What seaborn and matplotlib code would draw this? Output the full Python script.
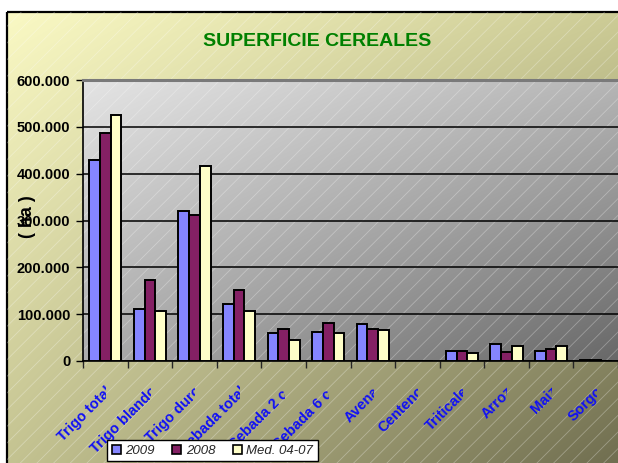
import numpy as np
import pandas as pd
import matplotlib
matplotlib.use("Agg")
import matplotlib.pyplot as plt
import matplotlib.transforms as mtransforms
from matplotlib.patches import Rectangle, Patch
from matplotlib.ticker import FixedLocator, FuncFormatter
import seaborn as sns

# data (ha)
cultivos = ["Trigo total", "Trigo blando", "Trigo duro", "Cebada total", "Cebada 2 c.",
            "Cebada 6 c.", "Avena", "Centeno", "Triticale", "Arroz", "Maiz", "Sorgo"]
series = ["2009", "2008", "Med. 04-07"]
v2009 = [429000, 110000, 320000, 122000, 60000, 62000, 79000, 1000, 21000, 36000, 22000, 2500]
v2008 = [486000, 173000, 312000, 151000, 68000, 82000, 68000, 1000, 22000, 19000, 26000, 1500]
vmed = [525000, 107000, 417000, 107000, 45000, 60000, 66000, 1000, 17000, 32000, 32000, 1000]
colores = ["#8585ff", "#842064", "#ffffc8"]

df = pd.DataFrame({
    "cultivo": cultivos * 3,
    "serie": [s for s in series for _ in cultivos],
    "ha": v2009 + v2008 + vmed,
})

sns.set_style("white")
plt.rcParams["font.family"] = ["Liberation Sans", "DejaVu Sans"]
plt.rcParams["hatch.linewidth"] = 0.6

W, H = 618, 463
fig = plt.figure(figsize=(W / 100, H / 100), dpi=100)
fig.patch.set_facecolor("white")


def grad(tl, tr, bl, br, n=200):
    # bilinear colour ramp between the four corners
    tl, tr, bl, br = [np.array(c, float) / 255 for c in (tl, tr, bl, br)]
    u = np.linspace(0, 1, n)[None, :, None]
    v = np.linspace(0, 1, n)[:, None, None]
    top = tl * (1 - u) + tr * u
    bot = bl * (1 - u) + br * u
    return top * (1 - v) + bot * v


# outer chart area background
bg = fig.add_axes([0, 0, 1, 1], zorder=-3)
bg.set_xlim(0, W)
bg.set_ylim(H, 0)
bg.axis("off")
bg.imshow(grad((250, 249, 196), (205, 204, 150), (196, 195, 145), (112, 110, 80)),
          extent=(7, W, H, 12), aspect="auto", interpolation="bilinear")
bg.add_patch(Rectangle((7, 12), W, H, fill=False, edgecolor="black", lw=1.6))

left, bottom, right, top = 83 / W, 1 - 361 / H, 1.0, 1 - 80 / H

# plot area background
pbg = fig.add_axes([left, bottom, right - left, top - bottom], zorder=-2)
pbg.axis("off")
pbg.imshow(grad((228, 228, 228), (182, 182, 182), (172, 172, 172), (104, 104, 104)),
           extent=(0, 1, 0, 1), aspect="auto", interpolation="bilinear")

# faint diagonal hatching over everything
hatch = fig.add_axes([0, 0, 1, 1], zorder=-1)
hatch.axis("off")
hatch.set_xlim(0, W)
hatch.set_ylim(H, 0)
hatch.add_patch(Rectangle((7, 12), W, H, facecolor="none", edgecolor=(1, 1, 1, 0.3),
                          lw=0, hatch="//"))

ax = fig.add_axes([left, bottom, right - left, top - bottom])
ax.patch.set_alpha(0)
sns.barplot(data=df, x="cultivo", y="ha", hue="serie", order=cultivos, hue_order=series,
            palette=colores, saturation=1, width=0.72, edgecolor="black", linewidth=1.4,
            legend=False, ax=ax, zorder=3)

ax.set_xlim(-0.5, len(cultivos) - 0.5)
ax.set_ylim(0, 600000)
ax.yaxis.set_major_locator(FixedLocator(np.arange(0, 600001, 100000)))
ax.yaxis.set_major_formatter(FuncFormatter(lambda v, p: f"{v:,.0f}".replace(",", ".")))
ax.grid(axis="y", color="black", lw=1.1)
ax.set_axisbelow(True)
ax.set_xlabel("")
ax.set_ylabel("")
ax.tick_params(axis="y", direction="out", length=5, width=1, pad=4, labelsize=10.5,
               left=True, colors="black")
for t in ax.get_yticklabels():
    t.set_fontweight("bold")

ax.set_xticks(range(len(cultivos)))
ax.set_xticklabels([])
ax.tick_params(axis="x", which="major", length=0)
ax.set_xticks(np.arange(-0.5, len(cultivos), 1), minor=True)
ax.tick_params(axis="x", which="minor", direction="out", length=5, width=1, bottom=True)

for s in ["left", "bottom"]:
    ax.spines[s].set_color("black")
    ax.spines[s].set_linewidth(1.2)
ax.spines["right"].set_visible(False)
ax.spines["top"].set_color("#7a7a7a")
ax.spines["top"].set_linewidth(2.2)

# rotated, clipped category labels (as in the original)
xfig = mtransforms.blended_transform_factory(ax.transData, fig.transFigure)
xax = mtransforms.blended_transform_factory(ax.transData, ax.transAxes)
for i, name in enumerate(cultivos):
    off = mtransforms.ScaledTranslation(0.0, -0.23, fig.dpi_scale_trans)
    t = ax.text(i, 0, name, transform=xax + off, rotation=45, rotation_mode="anchor",
                ha="right", va="top", fontsize=10.5, fontweight="bold", color="#1010f5",
                clip_on=True)
    t.set_clip_path(None)
    t.set_clip_box(mtransforms.TransformedBbox(
        mtransforms.Bbox([[i - 2, -1], [i + 0.02, 2]]), xfig))

fig.text(0.5135, 1 - 42 / H, "SUPERFICIE CEREALES", ha="center", va="center",
         fontsize=14, fontweight="bold", color="#008000")
fig.text(27 / W, 1 - 217 / H, "( ha )", rotation=90, ha="center", va="center",
         fontsize=13, fontweight="bold", color="black")

handles = [Patch(facecolor=c, edgecolor="black", lw=1.2) for c in colores]
leg = fig.legend(handles, series, loc="upper left", bbox_to_anchor=(107 / W, 1 - 440 / H),
                 ncol=3, frameon=True, fancybox=False, framealpha=1, edgecolor="black",
                 prop={"style": "italic", "size": 9.5}, handlelength=0.7, handleheight=0.7,
                 handletextpad=0.35, columnspacing=1.3, borderpad=0.35, borderaxespad=0)
leg.get_frame().set_linewidth(1)

fig.savefig("out.png", dpi=100)
